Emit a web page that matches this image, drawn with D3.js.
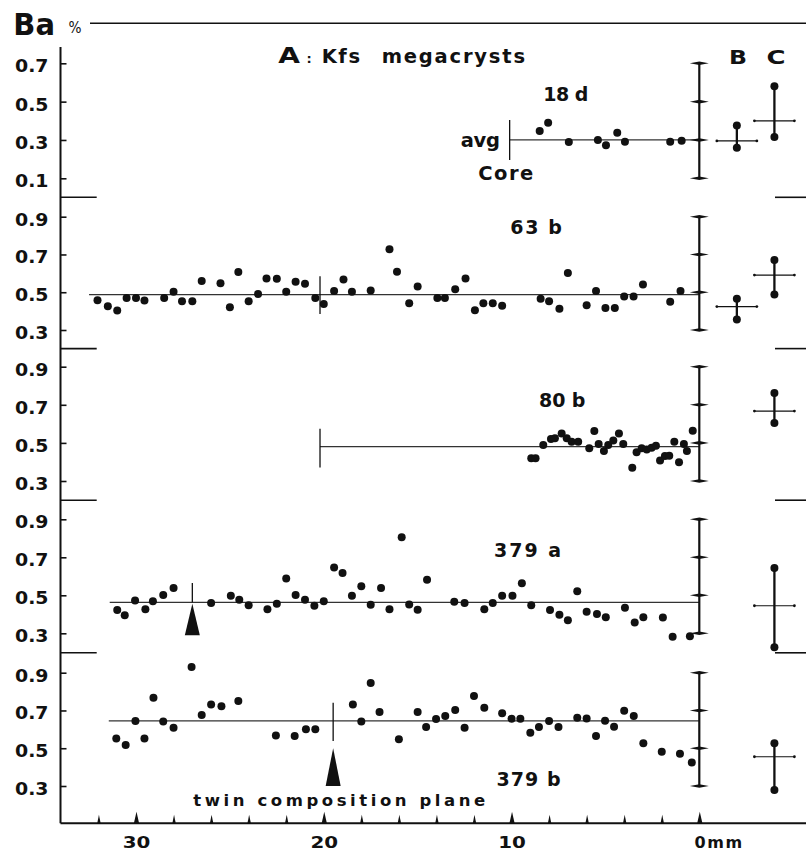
<!DOCTYPE html>
<html><head><meta charset="utf-8">
<script src="https://cdn.jsdelivr.net/npm/d3@7"></script>
<style>html,body{margin:0;padding:0;background:#fff}svg{display:block}</style>
</head><body><svg id="c" width="806" height="852"></svg>
<script>
// ---------------- DATA ----------------
const sampleNames = ["18 d", "63 b", "80 b", "379 a", "379 b"];

const pos18d = [8.5, 8.05, 6.95, 5.4, 4.97, 4.37, 3.96, 1.55, 0.94];
const ba18d  = [0.347, 0.39, 0.29, 0.30, 0.272, 0.338, 0.291, 0.291, 0.296];

const pos63b = [32.05,31.5,31.0,30.5,30.0,29.55,28.5,28.0,27.55,27.0,26.5,25.5,25.0,24.55,24.0,23.5,23.05,22.5,22.0,21.5,21.0,20.45,20.0,19.45,18.95,18.5,17.5,16.5,16.1,15.45,15.0,13.95,13.55,13.0,12.45,11.95,11.5,11.0,10.5,8.45,8.0,7.45,7.0,6.0,5.5,5.0,4.5,4.0,3.5,3.0,1.55,1.0];
const ba63b  = [0.458,0.426,0.403,0.470,0.470,0.456,0.470,0.502,0.452,0.452,0.559,0.548,0.420,0.607,0.452,0.491,0.573,0.571,0.502,0.555,0.545,0.470,0.438,0.506,0.568,0.502,0.509,0.728,0.609,0.442,0.531,0.470,0.470,0.516,0.573,0.404,0.442,0.442,0.428,0.465,0.452,0.413,0.602,0.431,0.506,0.417,0.417,0.477,0.477,0.541,0.449,0.506];

const pos80b = [8.95,8.72,8.31,7.90,7.69,7.33,7.06,6.80,6.45,5.86,5.59,5.36,5.08,4.85,4.58,4.28,4.05,3.57,3.34,3.07,2.80,2.54,2.31,2.09,1.83,1.60,1.33,1.08,0.82,0.66,0.35];
const ba80b  = [0.419,0.419,0.489,0.520,0.524,0.550,0.524,0.506,0.506,0.472,0.562,0.494,0.457,0.489,0.512,0.550,0.494,0.370,0.451,0.472,0.466,0.475,0.485,0.407,0.431,0.433,0.506,0.398,0.494,0.457,0.564];

const pos379a = [31.0,30.6,30.05,29.5,29.1,28.55,28.0,26.0,24.95,24.5,24.0,23.0,22.5,22.0,21.5,21.0,20.5,20.0,19.45,19.0,18.5,18.0,17.5,16.95,16.5,15.85,15.45,15.0,14.5,13.05,12.5,11.45,11.0,10.5,9.95,9.45,8.95,7.95,7.45,7.0,6.5,6.0,5.45,4.98,3.96,3.44,2.98,1.94,1.42,0.5];
const ba379a  = [0.422,0.395,0.473,0.427,0.469,0.501,0.538,0.459,0.498,0.476,0.448,0.427,0.455,0.589,0.501,0.476,0.445,0.469,0.646,0.618,0.498,0.547,0.450,0.538,0.427,0.806,0.452,0.424,0.582,0.466,0.459,0.427,0.459,0.498,0.498,0.563,0.448,0.422,0.397,0.369,0.521,0.413,0.402,0.385,0.434,0.357,0.385,0.383,0.282,0.284];

const pos379b = [31.05,30.55,30.03,29.55,29.07,28.55,28.0,27.04,26.5,26.0,25.45,24.55,22.55,21.55,20.95,20.45,18.45,18.0,17.5,17.03,16.0,15.0,14.55,14.02,13.53,13.0,12.5,12.0,11.45,10.5,10.0,9.53,9.0,8.54,8.0,7.5,6.5,6.0,5.5,5.02,4.54,4.0,3.49,2.98,2.0,1.03,0.4];
const ba379b  = [0.552,0.517,0.644,0.551,0.768,0.641,0.609,0.930,0.676,0.732,0.722,0.750,0.568,0.565,0.600,0.600,0.732,0.641,0.845,0.692,0.547,0.692,0.612,0.655,0.671,0.702,0.609,0.776,0.715,0.685,0.656,0.656,0.582,0.612,0.644,0.612,0.662,0.658,0.565,0.646,0.614,0.699,0.671,0.526,0.482,0.471,0.425];

// average Ba and where the avg line starts (mm)
const avgBa    = [0.30, 0.487, 0.48, 0.463, 0.645];
const avgStart = [10.1, 32.5, 20.2, 31.4, 31.45];

// core markers (mm, Ba top, Ba bottom)
const coreMm  = [10.1, 20.2, 20.2, null, null];
const coreTop = [0.404, 0.585, 0.574, null, null];
const coreBot = [0.195, 0.385, 0.371, null, null];

// twin composition plane markers
const twinMm      = [null, null, null, 27.0, 19.5];
const twinLineTop = [null, null, null, 0.565, 0.741];
const twinLineBot = [null, null, null, 0.463, 0.538];
const twinApex    = [null, null, null, 0.455, 0.50];
const twinBase    = [null, null, null, 0.29, 0.30];

// column B and C ranges (low, mid, high)
const bLow  = [0.26, 0.355, null, null, null];
const bMid  = [0.295, 0.424, null, null, null];
const bHigh = [0.376, 0.465, null, null, null];
const cLow  = [0.315, 0.488, 0.605, 0.226, 0.279];
const cMid  = [0.40, 0.591, 0.667, 0.445, 0.455];
const cHigh = [0.58, 0.671, 0.762, 0.644, 0.527];

// tick values
const yTicksTop   = [0.1, 0.3, 0.5, 0.7];
const yTicksOther = [0.3, 0.5, 0.7, 0.9];
const xTicks = [32, 30, 28, 26, 24, 22, 20, 18, 16, 14, 12, 10, 8, 6, 4, 2, 0];

const positions = [pos18d, pos63b, pos80b, pos379a, pos379b];
const values    = [ba18d, ba63b, ba80b, ba379a, ba379b];

// ---------------- LAYOUT ----------------
const FONT = "'DejaVu Sans', Verdana, sans-serif";
const INK = "#111";
const COL_B = -2, COL_C = -4;   // mm positions of columns B and C
const svg = d3.select("#c");
svg.append("rect").attr("width", 806).attr("height", 852).attr("fill", "#fff");

const x = d3.scaleLinear().domain([0, 30]).range([699.3, 136]);

const layout = [
  {dom: [0.1, 0.7], rng: [178.3, 63.3], ticks: yTicksTop},
  {dom: [0.3, 0.9], rng: [330, 216.7], ticks: yTicksOther},
  {dom: [0.3, 0.9], rng: [481, 366.7], ticks: yTicksOther},
  {dom: [0.3, 0.9], rng: [633.3, 519.3], ticks: yTicksOther},
  {dom: [0.3, 0.9], rng: [786, 672.7], ticks: yTicksOther}
];
const sepY = [197.3, 348.6, 500.2, 652.8];
const labelPos = [[543.3, 101, 45], [510.3, 234, 51.5], [539, 407, 46.4], [494, 557.3, 67], [496.4, 786.3, 64.3]];

function txt(g, s, xx, yy, size, len, opts = {}) {
  const t = g.append("text").attr("x", xx).attr("y", yy)
    .attr("font-family", FONT).attr("font-weight", opts.weight || "bold")
    .attr("font-size", size).attr("fill", INK).text(s);
  if (len) t.attr("textLength", len).attr("lengthAdjust", opts.adjust || "spacing");
  if (opts.anchor) t.attr("text-anchor", opts.anchor);
  return t;
}

// frame lines
svg.append("line").attr("x1", 90).attr("x2", 806).attr("y1", 23.3).attr("y2", 23.3)
  .attr("stroke", INK).attr("stroke-width", 1.6);
svg.append("line").attr("x1", 60.5).attr("x2", 60.5).attr("y1", 47).attr("y2", 823.3)
  .attr("stroke", INK).attr("stroke-width", 2);
sepY.forEach(yy => {
  svg.append("line").attr("x1", 60.5).attr("x2", 96.7).attr("y1", yy).attr("y2", yy)
    .attr("stroke", INK).attr("stroke-width", 1.6);
  svg.append("line").attr("x1", 775).attr("x2", 806).attr("y1", yy).attr("y2", yy)
    .attr("stroke", INK).attr("stroke-width", 1.6);
});

// titles
txt(svg, "Ba", 13.3, 35, 29.5, 41.7, {adjust: "spacingAndGlyphs"});
txt(svg, "%", 68.5, 32.5, 16, 13, {weight: "normal", adjust: "spacingAndGlyphs"});
txt(svg, "A", 278.3, 62.7, 22, 21.7, {adjust: "spacingAndGlyphs"});
txt(svg, ":", 306.5, 62.5, 13, null);
txt(svg, "Kfs", 321.7, 62.7, 19.5, 38.3);
txt(svg, "megacrysts", 381.7, 62.7, 19.5, 143.3);
txt(svg, "B", 729, 64, 20, 18, {adjust: "spacingAndGlyphs"});
txt(svg, "C", 766.5, 64, 20, 19, {adjust: "spacingAndGlyphs"});
txt(svg, "avg", 460.7, 147.3, 19.5, 39.3);
txt(svg, "Core", 478.3, 180.2, 19.5, 55);
txt(svg, "twin composition plane", 193.3, 805.7, 16.5, 292);

// panels
layout.forEach((L, i) => {
  const y = d3.scaleLinear().domain(L.dom).range(L.rng);
  const g = svg.append("g");

  // y axis ticks & labels
  const ax = d3.axisRight(y).tickValues(L.ticks).tickSize(6).tickFormat(d3.format(".1f"));
  const ga = g.append("g").attr("transform", "translate(60.5,0)").call(ax);
  ga.select(".domain").remove();
  ga.selectAll(".tick line").attr("stroke", INK).attr("stroke-width", 1.6);
  ga.selectAll(".tick text").attr("x", -45.5).attr("y", 8.5).attr("dy", 0)
    .attr("text-anchor", "start").attr("font-family", FONT).attr("font-weight", "bold")
    .attr("font-size", 17).attr("fill", INK).attr("textLength", 33.5).attr("lengthAdjust", "spacingAndGlyphs");

  // avg line
  g.append("line").attr("x1", x(avgStart[i])).attr("x2", x(0))
    .attr("y1", y(avgBa[i])).attr("y2", y(avgBa[i]))
    .attr("stroke", "#333").attr("stroke-width", 1.2);

  // core marker
  if (coreMm[i] !== null) {
    g.append("line").attr("x1", x(coreMm[i])).attr("x2", x(coreMm[i]))
      .attr("y1", y(coreTop[i])).attr("y2", y(coreBot[i]))
      .attr("stroke", INK).attr("stroke-width", 1.3);
  }
  // twin plane marker
  if (twinMm[i] !== null) {
    const tx = x(twinMm[i]);
    g.append("line").attr("x1", tx).attr("x2", tx)
      .attr("y1", y(twinLineTop[i])).attr("y2", y(twinLineBot[i]))
      .attr("stroke", INK).attr("stroke-width", 1.3);
    g.append("path")
      .attr("d", `M${tx},${y(twinApex[i])}L${tx - 7.5},${y(twinBase[i])}L${tx + 7.5},${y(twinBase[i])}Z`)
      .attr("fill", INK);
  }

  // right-hand scale bar at 0 mm
  const sx = x(0);
  g.append("line").attr("x1", sx).attr("x2", sx)
    .attr("y1", y(L.ticks[0])).attr("y2", y(L.ticks[L.ticks.length - 1]))
    .attr("stroke", INK).attr("stroke-width", 2.2);
  g.selectAll(".sbt").data(L.ticks).join("path")
    .attr("d", d => `M${sx - 9.5},${y(d)}L${sx},${y(d) - 1.8}L${sx + 9.5},${y(d)}L${sx},${y(d) + 1.8}Z`)
    .attr("fill", INK);

  // data points
  const pts = positions[i].map((p, k) => ({p, v: values[i][k]}));
  g.selectAll(".pt").data(pts).join("circle")
    .attr("cx", d => x(d.p)).attr("cy", d => y(d.v)).attr("r", 4).attr("fill", INK);

  // B and C columns
  function rangeBar(col, lo, mid, hi) {
    const cx = x(col);
    g.append("line").attr("x1", cx).attr("x2", cx).attr("y1", y(hi)).attr("y2", y(lo))
      .attr("stroke", INK).attr("stroke-width", 2.3);
    g.append("line").attr("x1", cx - 20).attr("x2", cx + 20).attr("y1", y(mid)).attr("y2", y(mid))
      .attr("stroke", INK).attr("stroke-width", 1.2);
    [cx - 20, cx + 20].forEach(ex => g.append("circle").attr("cx", ex).attr("cy", y(mid)).attr("r", 1.4).attr("fill", INK));
    [lo, hi].forEach(v => g.append("circle").attr("cx", cx).attr("cy", y(v)).attr("r", 4).attr("fill", INK));
  }
  if (bMid[i] !== null) rangeBar(COL_B, bLow[i], bMid[i], bHigh[i]);
  if (cMid[i] !== null) rangeBar(COL_C, cLow[i], cMid[i], cHigh[i]);

  // sample label
  const lp = labelPos[i];
  txt(g, sampleNames[i], lp[0], lp[1], 19, lp[2]);
});

// x axis
svg.append("line").attr("x1", 60.5).attr("x2", 806).attr("y1", 823.3).attr("y2", 823.3)
  .attr("stroke", INK).attr("stroke-width", 2);
const xAx = d3.axisBottom(x).tickValues(xTicks).tickSize(0)
  .tickFormat(d => d % 10 === 0 ? (d === 0 ? "0mm" : String(d)) : "");
const gx = svg.append("g").attr("transform", "translate(0,823.3)").call(xAx);
gx.select(".domain").remove();
gx.selectAll(".tick").append("path")
  .attr("d", d => d % 10 === 0 ? "M-2.6,0L0,-11.5L2.6,0Z" : "M-1.7,0L0,-8.5L1.7,0Z")
  .attr("fill", INK);
gx.selectAll(".tick text").attr("y", 24.5).attr("dy", 0)
  .attr("font-family", FONT).attr("font-weight", "bold").attr("font-size", 16).attr("fill", INK)
  .each(function(d) {
    const t = d3.select(this);
    if (d % 10 !== 0) return;
    if (d === 0) t.attr("text-anchor", "start").attr("x", -5.3).attr("textLength", 47.7).attr("lengthAdjust", "spacing");
    else t.attr("textLength", 27.6).attr("lengthAdjust", "spacingAndGlyphs");
  });
</script></body></html>
